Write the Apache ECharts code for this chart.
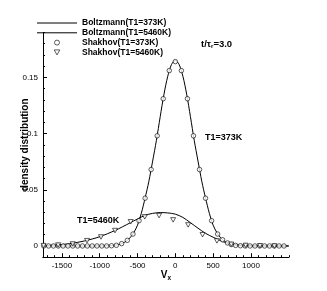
<!DOCTYPE html>
<html>
<head>
<meta charset="utf-8">
<script src="https://cdn.jsdelivr.net/npm/echarts@6/dist/echarts.min.js"></script>
<style>
html,body{margin:0;padding:0;background:#fff;}
#chart{width:327px;height:291px;}
</style>
</head>
<body>
<div id="chart"></div>
<script>
// Boltzmann T1=373K (solid line)
const boltz373V = [-1750,-1500,-1250,-1000,-900,-850,-800,-750,-700,-650,-600,-550,-500,-450,-400,-350,-300,-250,-200,-150,-100,-50,0,50,100,150,200,250,300,350,400,450,500,550,600,650,700,750,800,850,900,1000,1250,1500];
const boltz373Y = [0,0,0,0,0.0001,0.0003,0.0007,0.0013,0.0024,0.0042,0.0072,0.0118,0.0185,0.029,0.0425,0.0575,0.0755,0.094,0.115,0.135,0.151,0.1615,0.165,0.1615,0.151,0.135,0.115,0.094,0.0755,0.0575,0.0425,0.029,0.0185,0.0118,0.0072,0.0042,0.0024,0.0013,0.0007,0.0003,0.0001,0,0,0];

// Boltzmann T1=5460K (solid line)
const boltz5460V = [-1750,-1600,-1400,-1200,-1000,-800,-700,-600,-500,-400,-300,-200,-100,0,100,200,300,400,500,600,700,800,900,1000,1200,1500];
const boltz5460Y = [0.0003,0.0008,0.002,0.0045,0.0082,0.0137,0.017,0.0205,0.024,0.0272,0.029,0.0297,0.0294,0.0283,0.0254,0.0207,0.0158,0.0112,0.0078,0.0047,0.0022,0.0011,0.0006,0.0003,0.0001,0];

// Shakhov T1=373K (open circles)
const shak373V = [-1740,-1676,-1612,-1548,-1484,-1420,-1356,-1292,-1228,-1164,-1100,-1036,-972,-908,-844,-780,-710,-635,-560,-480,-400,-320,-240,-160,-80,0,80,160,240,320,400,480,560,625,690,740,797,861,925,989,1053,1117,1181,1245,1309,1373,1437];
const shak373Y = [0,0,0,0,0,0,0,0,0,0,0,0,0,0,0.0002,0.0006,0.0021,0.005,0.0106,0.0225,0.0425,0.068,0.098,0.131,0.156,0.164,0.156,0.131,0.098,0.068,0.0425,0.0225,0.0106,0.0055,0.0027,0.0013,0.0005,0.0002,0,0,0,0,0,0,0,0,0];

// Shakhov T1=5460K (open down-triangles)
const shak5460V = [-1742,-1550,-1357,-1168,-983,-797,-590,-404,-215,-29,170,360,550,740,930,1120,1310];
const shak5460Y = [0.0003,0.0008,0.0018,0.0047,0.008,0.0137,0.0215,0.0259,0.027,0.0232,0.0187,0.01,0.0045,0.0015,0.0005,0.0002,0];

const xMajorTicks = [-1500,-1000,-500,0,500,1000];
const xMinorTicks = [-1700,-1600,-1400,-1300,-1200,-1100,-900,-800,-700,-600,-400,-300,-200,-100,100,200,300,400,600,700,800,900,1100,1200,1300,1400,1500];
const yMajorTicks = [0,0.05,0.1,0.15];
const yMinorTicks = [0.01,0.02,0.03,0.04,0.06,0.07,0.08,0.09,0.11,0.12,0.13,0.14,0.16,0.17,0.18,0.19];

const seriesNames = ['Boltzmann(T1=373K)','Boltzmann(T1=5460K)','Shakhov(T1=373K)','Shakhov(T1=5460K)'];

const zip = (a,b) => a.map((v,i) => [v,b[i]]);
const FONT = 'Liberation Sans';
const triDown = 'path://M0,0 L10,0 L5,9 Z';
const openStyle = {color:'#fff', borderColor:'#000', borderWidth:0.8};
const hiddenDot = {color:'rgba(0,0,0,0)', borderColor:'rgba(0,0,0,0)', borderWidth:0};

const gridRect = {left:43, right:38.25, top:32.4, bottom:33.8, containLabel:false};

const chart = echarts.init(document.getElementById('chart'), null, {renderer:'canvas'});
chart.setOption({
  animation:false,
  backgroundColor:'#fff',
  grid:[Object.assign({}, gridRect), Object.assign({}, gridRect)],
  legend:{
    orient:'vertical', left:36.5, top:18.5, padding:0,
    itemWidth:40, itemHeight:5, itemGap:0.8,
    textStyle:{fontSize:8.5, fontWeight:'bold', fontFamily:FONT, color:'#000'},
    data:[
      {name:seriesNames[0], itemStyle:hiddenDot, lineStyle:{color:'#000', width:1}},
      {name:seriesNames[1], itemStyle:hiddenDot, lineStyle:{color:'#000', width:1}},
      {name:seriesNames[2], icon:'circle', itemStyle:openStyle},
      {name:seriesNames[3], icon:triDown, itemStyle:openStyle}
    ]
  },
  xAxis:[{
    type:'value', min:-1750, max:1500, gridIndex:0,
    axisLine:{show:true, onZero:false, lineStyle:{color:'#000', width:1}},
    axisTick:{show:true, inside:true, length:4, customValues:xMajorTicks, lineStyle:{color:'#000'}},
    axisLabel:{show:true, customValues:xMajorTicks, formatter:v => String(v), fontSize:8, fontFamily:FONT, color:'#000', margin:5},
    splitLine:{show:false},
    name:'{v|V}{s|x}', nameLocation:'middle', nameGap:12, nameMoveOverlap:false,
    nameTextStyle:{rich:{v:{fontSize:10, fontWeight:'bold', fontFamily:FONT, color:'#000'}, s:{fontSize:6.5, fontWeight:'bold', fontFamily:FONT, color:'#000', padding:[6,0,0,0]}}}
  },{
    type:'value', min:-1750, max:1500, gridIndex:1, position:'bottom',
    axisLine:{show:true, onZero:false, lineStyle:{color:'#000', width:1}},
    axisTick:{show:true, inside:true, length:2, customValues:xMinorTicks, lineStyle:{color:'#000'}},
    axisLabel:{show:false},
    splitLine:{show:false}
  }],
  yAxis:[{
    type:'value', min:-0.01, max:0.19, gridIndex:0,
    axisLine:{show:true, onZero:false, lineStyle:{color:'#000', width:1}},
    axisTick:{show:true, inside:true, length:4, customValues:yMajorTicks, lineStyle:{color:'#000'}},
    axisLabel:{show:true, customValues:yMajorTicks, fontSize:8, fontFamily:FONT, color:'#000', margin:5},
    splitLine:{show:false},
    name:'density distribution', nameLocation:'middle', nameGap:13, nameMoveOverlap:false,
    nameTextStyle:{fontSize:10, fontWeight:'bold', fontFamily:FONT, color:'#000'}
  },{
    type:'value', min:-0.01, max:0.19, gridIndex:1, position:'left',
    axisLine:{show:true, onZero:false, lineStyle:{color:'#000', width:1}},
    axisTick:{show:true, inside:true, length:2, customValues:yMinorTicks, lineStyle:{color:'#000'}},
    axisLabel:{show:false},
    splitLine:{show:false}
  }],
  series:[
    {name:seriesNames[0], type:'line', data:zip(boltz373V,boltz373Y), symbol:'none', smooth:0.3,
     lineStyle:{color:'#000', width:1}, itemStyle:{color:'#000'}, z:2},
    {name:seriesNames[1], type:'line', data:zip(boltz5460V,boltz5460Y), symbol:'none', smooth:0.3,
     lineStyle:{color:'#000', width:1}, itemStyle:{color:'#000'}, z:2},
    {name:seriesNames[2], type:'scatter', data:zip(shak373V,shak373Y), symbol:'circle', symbolSize:4.5,
     itemStyle:openStyle, z:3},
    {name:seriesNames[3], type:'scatter', data:zip(shak5460V,shak5460Y), symbol:triDown, symbolSize:[5,4.5],
     itemStyle:openStyle, z:4}
  ],
  graphic:[
    {type:'text', left:201, top:39, style:{text:'{a|t/τ}{s|r}{a|=3.0}', rich:{
      a:{fontSize:9.5, fontWeight:'bold', fontFamily:FONT, fill:'#000'},
      s:{fontSize:6, fontWeight:'bold', fontFamily:FONT, fill:'#000', padding:[5,0,0,0]}}}},
    {type:'text', left:205, top:133, style:{text:'T1=373K', fontSize:9, fontWeight:'bold', fontFamily:FONT, fill:'#000'}},
    {type:'text', left:77, top:216, style:{text:'T1=5460K', fontSize:9, fontWeight:'bold', fontFamily:FONT, fill:'#000'}}
  ]
});
</script>
</body>
</html>
